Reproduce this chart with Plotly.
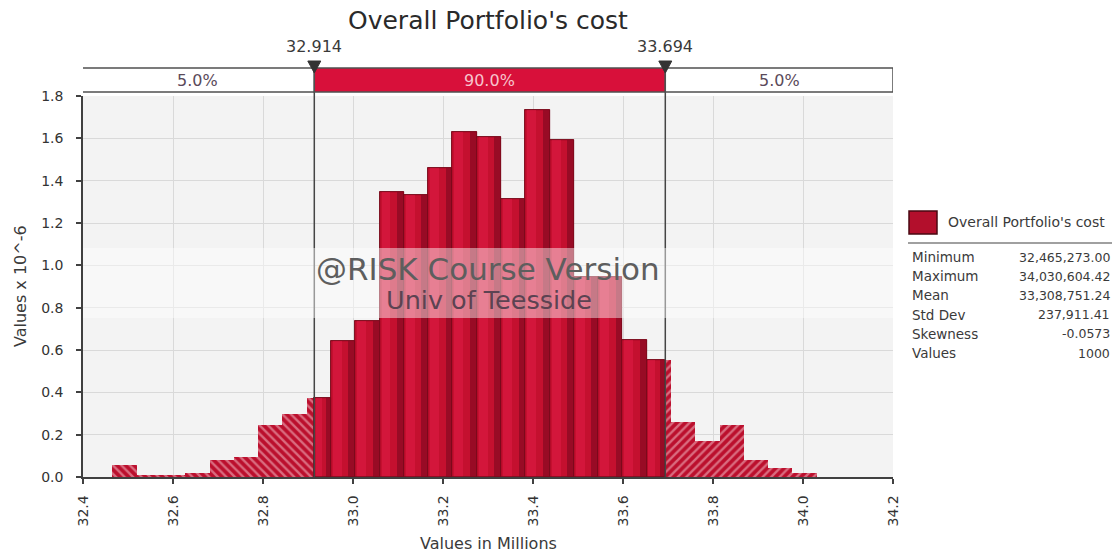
import plotly.graph_objects as go

# ---------------- data ----------------
chart_title = "Overall Portfolio's cost"
series_name = "Overall Portfolio's cost"
sim_min = 32.465273      # millions
sim_max = 34.03060442    # millions
n_bins = 29
density = [0.057, 0.010, 0.010, 0.019, 0.080, 0.096, 0.245, 0.300, 0.371,
           0.643, 0.738, 1.347, 1.331, 1.462, 1.630, 1.607, 1.313, 1.736,
           1.591, 0.945, 0.945, 0.647, 0.552, 0.261, 0.171, 0.245, 0.080,
           0.041, 0.017]
p_low = 32.914
p_high = 33.694
pct_labels = ["5.0%", "90.0%", "5.0%"]
stat_names = ["Minimum", "Maximum", "Mean", "Std Dev", "Skewness", "Values"]
stat_values = ["32,465,273.00", "34,030,604.42", "33,308,751.24",
               "237,911.41", "-0.0573", "1000"]
x_ticks = [32.4, 32.6, 32.8, 33.0, 33.2, 33.4, 33.6, 33.8, 34.0, 34.2]
y_ticks = [0.0, 0.2, 0.4, 0.6, 0.8, 1.0, 1.2, 1.4, 1.6, 1.8]
x_title = "Values in Millions"
y_title = "Values x 10^-6"
wm_line1 = "@RISK Course Version"
wm_line2 = "Univ of Teesside"

# ---------------- layout constants (page pixels) ----------------
W, H = 1119, 556
PL, PR, PT, PB = 83, 893, 96, 477      # plot area in page pixels
ML, MT = PL, PT
MR, MB = W - PR, H - PB
PW, PH = PR - PL, PB - PT
FONT = "DejaVu Sans"
XMIN, XMAX = x_ticks[0], x_ticks[-1]
TXT = "#3a3a3a"


def yp(py):
    return (PB - py) / PH


def xp(px):
    return (px - PL) / PW


def xd(px):
    return XMIN + (px - PL) / PW * (XMAX - XMIN)


CRIMSON = "#c4102f"
HILITE = "#d3163b"
DARK = "#980b25"
EDGE = "#7a0a1c"

# ---------------- bar segments ----------------
bw = (sim_max - sim_min) / n_bins
edges = [sim_min + i * bw for i in range(n_bins + 1)]
segs = {"left": [], "mid": [], "right": []}
for i, h in enumerate(density):
    a, b = edges[i], edges[i + 1]
    for name, lo, hi in (("left", -1e9, p_low), ("mid", p_low, p_high), ("right", p_high, 1e9)):
        s0, s1 = max(a, lo), min(b, hi)
        if s1 > s0:
            segs[name].append((s0, s1, h))

fig = go.Figure()


def add_bars(seglist, color, pattern=None, line_w=0.8, frac=(0.0, 1.0), line_col=EDGE):
    xs, ws, hs = [], [], []
    for s0, s1, h in seglist:
        a = s0 + (s1 - s0) * frac[0]
        b = s0 + (s1 - s0) * frac[1]
        xs.append((a + b) / 2)
        ws.append(b - a)
        hs.append(h)
    marker = dict(color=color, line=dict(color=line_col, width=line_w))
    if pattern:
        marker["pattern"] = pattern
    fig.add_trace(go.Bar(x=xs, y=hs, width=ws, marker=marker,
                         showlegend=False, hoverinfo="skip"))


# hatched tails
add_bars(segs["left"], "#bb0f2d",
         pattern=dict(shape="\\", fgcolor="#f7c8d1", size=6, solidity=0.4), line_w=0)
add_bars(segs["right"], "#bb0f2d",
         pattern=dict(shape="/", fgcolor="#f7c8d1", size=6, solidity=0.4), line_w=0)
# solid centre with pseudo-gradient
add_bars(segs["mid"], CRIMSON, line_w=0.8)
add_bars(segs["mid"], HILITE, line_w=0, frac=(0.08, 0.45))
add_bars(segs["mid"], DARK, line_w=0, frac=(0.72, 1.0))
add_bars(segs["mid"], "rgba(0,0,0,0)", line_w=0.8)

shapes = []
annotations = []


def note(x, y, text, size, color=TXT, xanchor="center", xref="paper"):
    annotations.append(dict(xref=xref, yref="paper", x=x, y=y, text=text,
                            showarrow=False, xanchor=xanchor, yanchor="middle",
                            font=dict(family=FONT, size=size, color=color)))


# percentile marker lines
for v in (p_low, p_high):
    shapes.append(dict(type="line", xref="x", yref="paper", x0=v, x1=v,
                       y0=0, y1=yp(72), line=dict(color="#454545", width=1.5),
                       layer="above"))

# watermark band
shapes.append(dict(type="rect", xref="x", yref="paper", x0=XMIN, x1=XMAX,
                   y0=yp(318), y1=yp(248), fillcolor="rgba(255,255,255,0.45)",
                   line=dict(width=0), layer="above"))

# top probability bar
bar_x0 = xd(80)
seg_bounds = [bar_x0, p_low, p_high, XMAX]
seg_fill = ["white", "#d8103a", "white"]
seg_txt = ["#5a4a5a", "#f7c4cc", "#5a4a5a"]
for i in range(3):
    shapes.append(dict(type="rect", xref="x", yref="paper",
                       x0=seg_bounds[i], x1=seg_bounds[i + 1],
                       y0=yp(92), y1=yp(68), fillcolor=seg_fill[i],
                       line=dict(color="#505050", width=1.5), layer="above"))
    note((seg_bounds[i] + seg_bounds[i + 1]) / 2, yp(80), pct_labels[i], 16,
         color=seg_txt[i], xref="x")

# triangles + labels
tw = xd(PL + 6.5) - XMIN
for v in (p_low, p_high):
    path = f"M {v - tw},{yp(61)} L {v + tw},{yp(61)} L {v},{yp(73)} Z"
    shapes.append(dict(type="path", xref="x", yref="paper", path=path,
                       fillcolor="#333333", line=dict(color="#333333", width=1),
                       layer="above"))
    note(v, yp(47), f"{v:.3f}", 16, xref="x")

# watermark text
note(xp(488), yp(269), wm_line1, 31, color="#5e5e5e")
note(xp(489), yp(300), wm_line2, 25.5, color="#5c4352")

# title
note(xp(488), yp(20), chart_title, 25, color="#2a2a2a")

# axis titles
note(xp(488), yp(543), x_title, 16)
annotations.append(dict(xref="paper", yref="paper", x=xp(20), y=yp(286),
                        text=y_title, showarrow=False, textangle=-90,
                        xanchor="center", yanchor="middle",
                        font=dict(family=FONT, size=16, color=TXT)))

# legend / stats panel
shapes.append(dict(type="rect", xref="paper", yref="paper",
                   x0=xp(909), x1=xp(937), y0=yp(234), y1=yp(211),
                   fillcolor="#b30f2c", line=dict(color="#4a0812", width=1.5)))
note(xp(946), yp(222), series_name, 14, xanchor="left")
shapes.append(dict(type="line", xref="paper", yref="paper",
                   x0=xp(908), x1=xp(1112), y0=yp(243), y1=yp(243),
                   line=dict(color="#a0a0a0", width=2)))
row0, row_dy = 257, 19.2
for k, (nm, val) in enumerate(zip(stat_names, stat_values)):
    yy = yp(row0 + k * row_dy)
    note(xp(910), yy, nm, 13.5, xanchor="left")
    note(xp(1112), yy, val, 12.5, xanchor="right")

fig.update_layout(
    width=W, height=H,
    margin=dict(l=ML, r=MR, t=MT, b=MB, pad=0),
    paper_bgcolor="white", plot_bgcolor="#f3f3f3",
    barmode="overlay", bargap=0,
    showlegend=False,
    shapes=shapes, annotations=annotations,
    font=dict(family=FONT, color=TXT),
    xaxis=dict(range=[XMIN, XMAX], tickvals=x_ticks,
               ticktext=[f"{t:.1f}" for t in x_ticks], tickangle=-90,
               showgrid=True, gridcolor="#d9d9d9", gridwidth=1,
               showline=True, linecolor="#404040", linewidth=1.5,
               ticks="outside", ticklen=5, tickcolor="#404040", tickwidth=1.5,
               ticklabelstandoff=6,
               tickfont=dict(family=FONT, size=14, color="#333333"),
               zeroline=False, fixedrange=True),
    yaxis=dict(range=[y_ticks[0], y_ticks[-1]], tickvals=y_ticks,
               ticktext=[f"{t:.1f}" for t in y_ticks],
               showgrid=True, gridcolor="#d9d9d9", gridwidth=1,
               showline=True, linecolor="#404040", linewidth=1.5,
               ticks="outside", ticklen=5, tickcolor="#404040", tickwidth=1.5,
               ticklabelstandoff=10,
               tickfont=dict(family=FONT, size=14, color="#333333"),
               zeroline=False, fixedrange=True),
)

fig.write_html("out.html",
               config={"displayModeBar": False},
               post_script="document.body.style.margin='0';document.body.style.overflow='hidden';")
